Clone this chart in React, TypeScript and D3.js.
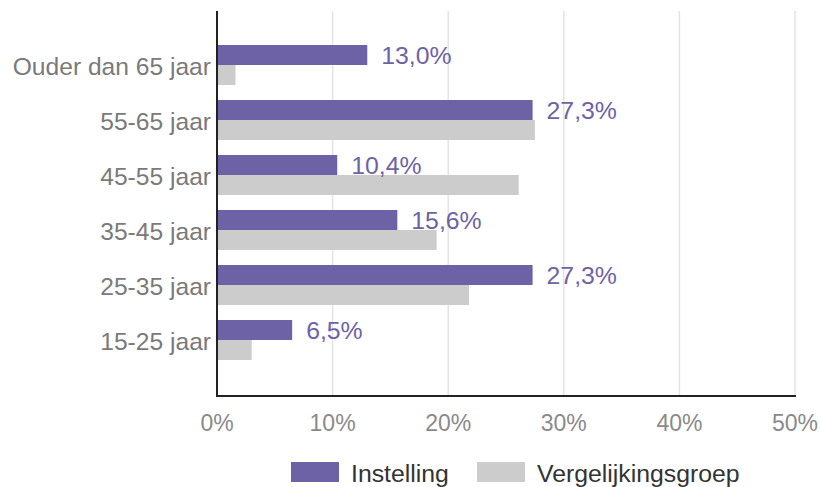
import React from "react";
import * as d3 from "d3";

const categories = [
  "Ouder dan 65 jaar",
  "55-65 jaar",
  "45-55 jaar",
  "35-45 jaar",
  "25-35 jaar",
  "15-25 jaar",
];
const seriesNames = ["Instelling", "Vergelijkingsgroep"];
const instelling = [13.0, 27.3, 10.4, 15.6, 27.3, 6.5];
const vergelijkingsgroep = [1.6, 27.5, 26.1, 19.0, 21.8, 3.0];
const xTicks = [0, 10, 20, 30, 40, 50];
const colors = ["#6e62a6", "#cccccc"];

const W = 821;
const H = 487;
const FONT = "'Liberation Sans', Arial, sans-serif";

export default function App() {
  const x = d3.scaleLinear().domain([0, 50]).range([217, 795]);
  const y = d3
    .scaleBand<string>()
    .domain(categories)
    .range([37.5, 367.5])
    .paddingInner(15 / 55)
    .paddingOuter(7.5 / 55);
  const ys = d3
    .scaleBand<string>()
    .domain(seriesNames)
    .range([0, y.bandwidth()]);
  const seriesValues = [instelling, vergelijkingsgroep];
  const fmt = (v: number) => d3.format(".1f")(v).replace(".", ",") + "%";
  const plotTop = 11;
  const plotBottom = 396;

  const legendItems = [
    { name: seriesNames[0], sx: 291, tx: 351 },
    { name: seriesNames[1], sx: 477, tx: 537 },
  ];

  return (
    <svg
      width={W}
      height={H}
      style={{ position: "absolute", left: 0, top: 0, background: "#fff" }}
      fontFamily={FONT}
    >
      {/* gridlines */}
      {xTicks.slice(1).map((t) => (
        <line
          key={"g" + t}
          x1={x(t)}
          x2={x(t)}
          y1={plotTop}
          y2={plotBottom}
          stroke="#e4e4e4"
          strokeWidth={1.5}
        />
      ))}
      {/* bars */}
      {categories.map((c, i) =>
        seriesNames.map((s, j) => (
          <rect
            key={c + s}
            x={x(0)}
            y={(y(c) as number) + (ys(s) as number)}
            width={x(seriesValues[j][i]) - x(0)}
            height={ys.bandwidth()}
            fill={colors[j]}
          />
        ))
      )}
      {/* data labels */}
      {categories.map((c, i) => (
        <text
          key={"l" + c}
          x={x(instelling[i]) + 14}
          y={(y(c) as number) + (ys(seriesNames[0]) as number) + ys.bandwidth() / 2 + 8.5}
          fontSize={24.8}
          fill="#6e62a6"
        >
          {fmt(instelling[i])}
        </text>
      ))}
      {/* category labels */}
      {categories.map((c) => (
        <text
          key={"c" + c}
          x={211}
          y={(y(c) as number) + y.bandwidth() / 2 + 10}
          fontSize={24.6}
          textAnchor="end"
          fill="#7a7a7a"
        >
          {c}
        </text>
      ))}
      {/* axes */}
      <line x1={x(0)} x2={x(0)} y1={plotTop} y2={plotBottom} stroke="#222" strokeWidth={2} />
      <line x1={x(0) - 1} x2={x(50) + 1} y1={plotBottom} y2={plotBottom} stroke="#222" strokeWidth={2} />
      {/* tick labels */}
      {xTicks.map((t) => (
        <text
          key={"t" + t}
          x={x(t)}
          y={431}
          fontSize={23}
          textAnchor="middle"
          fill="#8a8a8a"
        >
          {t + "%"}
        </text>
      ))}
      {/* legend */}
      {legendItems.map((l, i) => (
        <g key={l.name}>
          <rect x={l.sx} y={462} width={48} height={20} fill={colors[i]} />
          <text x={l.tx} y={482} fontSize={24.8} fill="#333">
            {l.name}
          </text>
        </g>
      ))}
    </svg>
  );
}
